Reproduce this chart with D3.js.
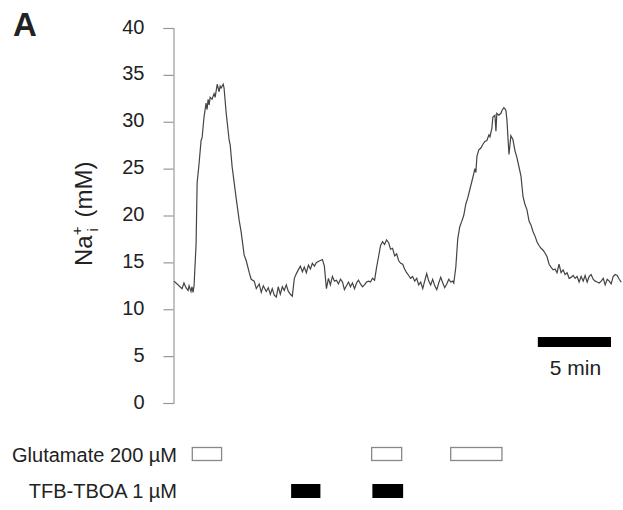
<!DOCTYPE html>
<html>
<head>
<meta charset="utf-8">
<script src="https://cdn.jsdelivr.net/npm/d3@7"></script>
<style>
  body { margin: 0; background: #fff; }
  text { font-family: "Liberation Sans", Arial, sans-serif; fill: #222; }
</style>
</head>
<body>
<svg id="chart" width="623" height="510"></svg>
<script>
// time in minutes, Na+ in mM
let time = [0,0.21,0.41,0.55,0.68,0.82,0.96,1.03,1.16,1.23,1.3,1.37,1.51,1.58,1.71,1.85,1.92,2.05,2.19,2.26,2.33,2.4,2.47,2.6,2.74,2.81,2.95,3.08,3.15,3.22,3.36,3.42,3.56,3.77,3.84,3.97,4.11,4.25,4.45,4.59,4.79,4.93,5.14,5.27,5.48,5.62,5.82,5.96,6.1,6.3,6.44,6.58,6.71,6.85,6.99,7.12,7.26,7.4,7.53,7.67,7.81,7.95,8.08,8.22,8.36,8.49,8.63,8.77,8.9,9.04,9.18,9.32,9.45,9.59,9.73,9.86,10,10.14,10.27,10.41,10.55,10.68,10.82,10.96,11.1,11.23,11.37,11.51,11.64,11.78,11.92,12.05,12.19,12.33,12.47,12.6,12.74,12.88,13.01,13.15,13.29,13.42,13.56,13.7,13.84,13.97,14.11,14.25,14.38,14.52,14.66,14.79,14.93,15.07,15.21,15.34,15.48,15.62,15.75,15.89,16.03,16.16,16.3,16.44,16.58,16.71,16.85,16.99,17.12,17.26,17.4,17.53,17.67,17.81,17.95,18.08,18.22,18.36,18.49,18.63,18.77,18.9,19.04,19.11,19.25,19.38,19.52,19.66,19.79,19.93,20.07,20.21,20.34,20.48,20.55,20.62,20.69,20.82,20.96,21.1,21.23,21.37,21.51,21.58,21.71,21.78,21.92,21.99,22.05,22.19,22.33,22.4,22.53,22.6,22.67,22.74,22.88,23.01,23.15,23.29,23.42,23.56,23.7,23.84,23.97,24.11,24.25,24.38,24.52,24.66,24.79,24.93,25.07,25.21,25.34,25.48,25.62,25.75,25.89,26.03,26.16,26.3,26.44,26.58,26.71,26.85,26.99,27.12,27.26,27.4,27.53,27.67,27.81,27.95,28.08,28.22,28.36,28.49,28.63,28.77,28.9,29.04,29.18,29.32,29.45,29.59,29.73,29.86,30,30.14,30.27,30.41,30.55]
let na = [13,12.7,12.4,12.2,12.8,12.3,12,12.5,11.9,12.4,11.8,12.5,17,23.5,25.5,28,28.3,30.5,32,31.3,32.4,31.8,32.6,32.4,33,32.6,34,33.2,33.8,33.6,34,33.6,31,28,27.5,25.2,23.5,21.8,19.5,18.2,15.8,15.2,13.9,13.2,13,12.2,12.7,11.8,12.5,11.9,12.3,11.6,12.2,11.5,11.3,12.4,11.6,12.4,12,12.6,11.9,11.6,11.4,13.3,13.8,14.2,14.6,14,14.5,13.9,14.7,14.3,14.9,14.6,15,15.1,15.2,15.3,14.6,12.2,13.3,12.6,13.5,13,13.1,12.7,13.2,12.9,12.1,12.5,12.9,12.4,12.8,12.2,12.8,13.1,12.7,12.4,12.6,12.9,13,12.9,13.3,13.1,14.5,15.6,16.8,17.2,16.9,17.4,17.1,16.4,16.5,15.7,15.9,15.2,14.9,14.8,14.3,13.9,13.6,13.3,13.5,13,13.3,12.6,12.9,12.2,13,13.8,13,12.6,13.2,12.5,12.1,12.8,13.4,12.8,12.3,12.7,13.2,12.9,13,12.8,14.5,17.5,18.8,19.4,20,21.2,21.9,22.8,23.6,24.5,25,24.6,26.3,27,27.2,27.6,27.9,28,28.6,28.4,29.3,30.5,30.7,29,30.9,30.7,30.9,31.2,31.5,31.4,31.2,30.2,26.5,28.5,28.1,26.9,26.2,25.2,24.2,22,21.2,20.6,19.4,19,18.3,17.8,17.2,16.8,16.5,16.3,16,15.6,14.8,14.5,14.2,14.3,13.9,14.8,13.9,14.2,13.7,13.9,13.3,13.4,13.6,13.3,13.5,12.9,13.5,13,13.6,12.9,13.5,13.7,13.2,13,12.9,12.8,13,13.3,12.6,13.2,13,12.7,13.5,13.7,13.6,13.2,12.9]

let yTicks = [0, 5, 10, 15, 20, 25, 30, 35, 40]
// application periods, minutes
let glutamate = [[1.25, 3.25], [13.5, 15.55], [18.9, 22.4]]
let tboa = [[8.0, 10.0], [13.55, 15.65]]
let scaleBarMin = 5

let svg = d3.select("#chart")

let x = d3.scaleLinear().domain([0, 30.6]).range([174, 622])
let y = d3.scaleLinear().domain([0, 40]).range([403, 28])

// y axis
let yAxis = svg.append("g")
  .attr("transform", "translate(173.5,0)")
  .call(d3.axisLeft(y).tickValues(yTicks).tickSize(10).tickPadding(19))
yAxis.select(".domain").attr("stroke", "#999").attr("stroke-width", 1.2)
yAxis.selectAll(".tick line").attr("stroke", "#999").attr("stroke-width", 1.2)
yAxis.selectAll(".tick text")
  .style("font-family", "'Liberation Sans', Arial, sans-serif")
  .style("font-size", "20px")
  .attr("dy", "0.25em")
  .attr("fill", "#222")

// trace
let pts = time.map((t, i) => [t, na[i]])
svg.append("path")
  .datum(pts)
  .attr("fill", "none")
  .attr("stroke", "#444")
  .attr("stroke-width", 1.2)
  .attr("d", d3.line().x(d => x(d[0])).y(d => y(d[1])))

// panel letter
svg.append("text")
  .attr("x", 13).attr("y", 36)
  .style("font-size", "33px").style("font-weight", "bold")
  .attr("fill", "#000")
  .text("A")

// y label
let yl = svg.append("text")
  .attr("transform", "translate(92,266) rotate(-90)")
  .style("font-size", "24px")
yl.append("tspan").text("Na")
yl.append("tspan").attr("dy", -10).style("font-size", "15px").text("+")
yl.append("tspan").attr("dx", -5).attr("dy", 16).style("font-size", "15px").text("i")
yl.append("tspan").attr("dx", 4).attr("dy", -6).text(" (mM)")

// scale bar
svg.append("rect")
  .attr("x", x(24.85)).attr("y", 337)
  .attr("width", x(24.85 + scaleBarMin) - x(24.85)).attr("height", 10)
  .attr("fill", "#000")
svg.append("text")
  .attr("x", (x(24.85) + x(24.85 + scaleBarMin)) / 2 + 1).attr("y", 375)
  .attr("text-anchor", "middle")
  .style("font-size", "21px")
  .text(scaleBarMin + " min")

// application bars
svg.selectAll(".glu").data(glutamate).enter()
  .append("rect")
  .attr("x", d => x(d[0])).attr("y", 447.5)
  .attr("width", d => x(d[1]) - x(d[0])).attr("height", 13)
  .attr("fill", "#fff").attr("stroke", "#888").attr("stroke-width", 1.3)
svg.selectAll(".tboa").data(tboa).enter()
  .append("rect")
  .attr("x", d => x(d[0])).attr("y", 484)
  .attr("width", d => x(d[1]) - x(d[0])).attr("height", 14)
  .attr("fill", "#000")

svg.append("text")
  .attr("x", 177).attr("y", 462)
  .attr("text-anchor", "end")
  .style("font-size", "20px")
  .text("Glutamate 200 µM")
svg.append("text")
  .attr("x", 177).attr("y", 498)
  .attr("text-anchor", "end")
  .style("font-size", "20px")
  .text("TFB-TBOA 1 µM")
</script>
</body>
</html>
